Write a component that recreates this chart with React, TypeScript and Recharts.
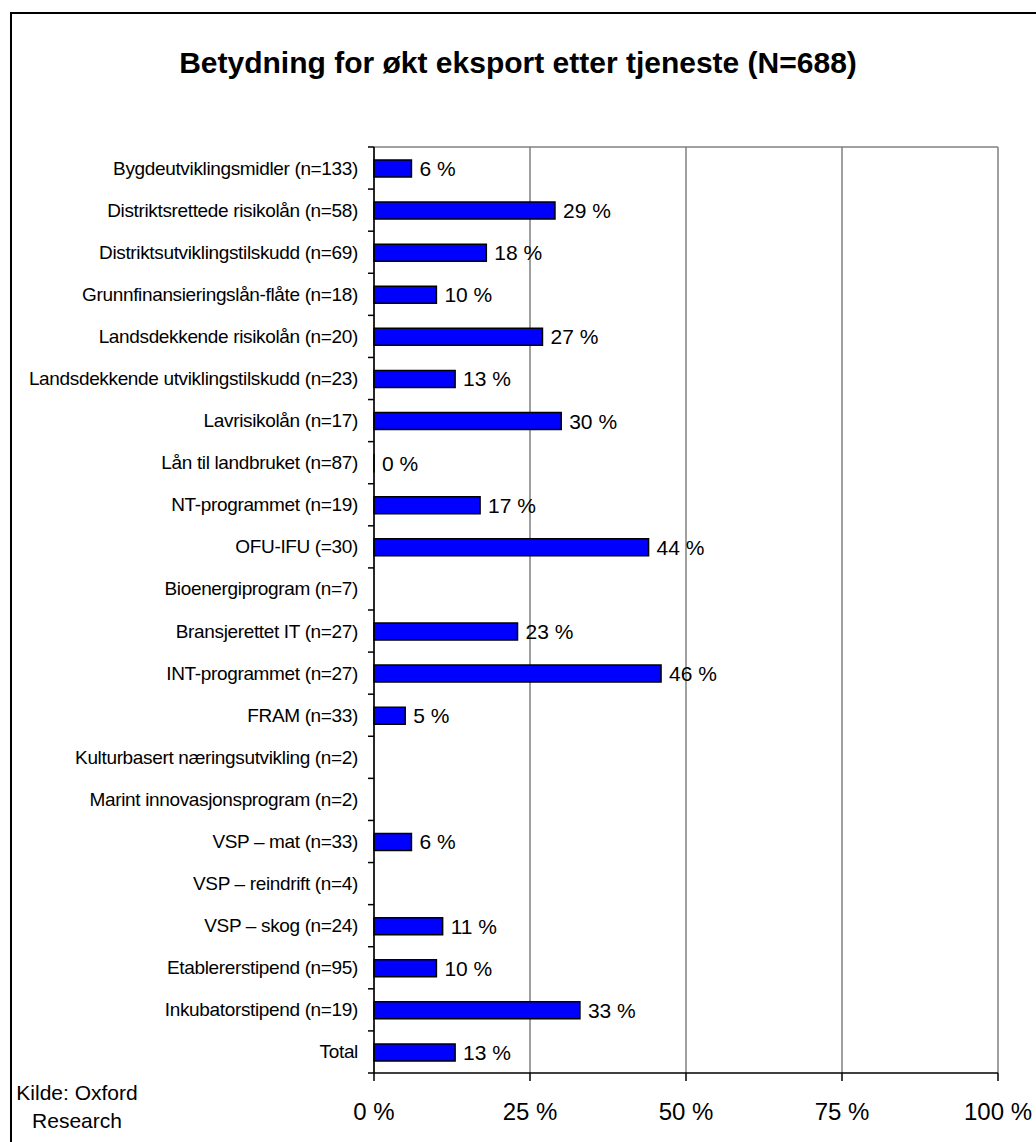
import React from "react";
import {
  Bar,
  BarChart,
  CartesianGrid,
  LabelList,
  XAxis,
  YAxis,
} from "recharts";

const categories = [
  "Bygdeutviklingsmidler (n=133)",
  "Distriktsrettede risikolån (n=58)",
  "Distriktsutviklingstilskudd (n=69)",
  "Grunnfinansieringslån-flåte (n=18)",
  "Landsdekkende risikolån (n=20)",
  "Landsdekkende utviklingstilskudd (n=23)",
  "Lavrisikolån (n=17)",
  "Lån til landbruket (n=87)",
  "NT-programmet (n=19)",
  "OFU-IFU (=30)",
  "Bioenergiprogram (n=7)",
  "Bransjerettet IT (n=27)",
  "INT-programmet (n=27)",
  "FRAM (n=33)",
  "Kulturbasert næringsutvikling (n=2)",
  "Marint innovasjonsprogram (n=2)",
  "VSP – mat (n=33)",
  "VSP – reindrift (n=4)",
  "VSP – skog (n=24)",
  "Etablererstipend (n=95)",
  "Inkubatorstipend (n=19)",
  "Total",
];

// null = no answer shown for that service
const shares: (number | null)[] = [
  6, 29, 18, 10, 27, 13, 30, 0, 17, 44, null, 23, 46, 5, null, null, 6, null,
  11, 10, 33, 13,
];

const xTicks = [0, 25, 50, 75, 100];

const data = categories.map((name, i) => ({ name, value: shares[i] }));

const FONT = "'Liberation Sans', Arial, sans-serif";
const PLOT_TOP = 147;
const PLOT_BOTTOM = 1073;
const BAND = (PLOT_BOTTOM - PLOT_TOP) / categories.length;

function CategoryTick(props: any) {
  const { x, y, payload, index } = props;
  const isLast = index === categories.length - 1;
  return (
    <g>
      <line x1={x + 10} x2={x + 16} y1={y - BAND / 2} y2={y - BAND / 2} stroke="#000" strokeWidth={1.5} />
      {isLast && (
        <line x1={x + 10} x2={x + 16} y1={y + BAND / 2} y2={y + BAND / 2} stroke="#000" strokeWidth={1.5} />
      )}
      <text
        x={x}
        y={y}
        textAnchor="end"
        dominantBaseline="central"
        fontSize={19}
        letterSpacing={-0.35}
        fontFamily={FONT}
        fill="#000"
      >
        {payload.value}
      </text>
    </g>
  );
}

function ValueLabel(props: any) {
  const { x, y, width, height, value } = props;
  if (value === null || value === undefined) return null;
  return (
    <text
      x={x + width + 8}
      y={y + height / 2}
      dominantBaseline="central"
      fontSize={21}
      fontFamily={FONT}
      fill="#000"
    >
      {`${value} %`}
    </text>
  );
}

export default function App() {
  return (
    <div
      style={{
        position: "fixed",
        left: 0,
        top: 0,
        width: 1036,
        height: 1142,
        overflow: "hidden",
        background: "#fff",
        fontFamily: FONT,
      }}
    >
      <div
        style={{
          position: "absolute",
          left: 10,
          top: 12,
          width: 1100,
          height: 1200,
          border: "2px solid #000",
          boxSizing: "border-box",
        }}
      />
      <div
        style={{
          position: "absolute",
          left: 0,
          width: 1036,
          top: 48,
          textAlign: "center",
          fontSize: 30,
          lineHeight: "30px",
          fontWeight: "bold",
          color: "#000",
        }}
      >
        Betydning for økt eksport etter tjeneste (N=688)
      </div>
      <div
        style={{
          position: "absolute",
          left: 12,
          width: 130,
          top: 1079,
          textAlign: "center",
          fontSize: 21,
          lineHeight: "28px",
          color: "#000",
        }}
      >
        Kilde: Oxford
        <br />
        Research
      </div>
      <div style={{ position: "absolute", left: 0, top: 0 }}>
        <BarChart
          width={1036}
          height={1142}
          data={data}
          layout="vertical"
          margin={{ top: PLOT_TOP, right: 38, bottom: 9, left: 10 }}
          barSize={17}
        >
          <CartesianGrid
            stroke="#808080"
            strokeWidth={1.5}
            horizontalCoordinatesGenerator={({ offset }: any) => [offset.top]}
          />
          <XAxis
            type="number"
            domain={[0, 100]}
            ticks={xTicks}
            tickFormatter={(v) => `${v} %`}
            height={60}
            tickSize={8}
            tickMargin={22}
            axisLine={{ stroke: "#000", strokeWidth: 1.5 }}
            tickLine={{ stroke: "#000", strokeWidth: 1.5 }}
            tick={{ fill: "#000", fontSize: 24, fontFamily: FONT }}
          />
          <YAxis
            type="category"
            dataKey="name"
            width={364}
            interval={0}
            tickLine={false}
            tickSize={6}
            tickMargin={10}
            axisLine={{ stroke: "#000", strokeWidth: 1.5 }}
            tick={<CategoryTick />}
          />
          <Bar
            dataKey="value"
            fill="#0000FF"
            stroke="#000"
            strokeWidth={1.5}
            minPointSize={(v: any) => (v === 0 ? 0.01 : 0)}
            isAnimationActive={false}
          >
            <LabelList dataKey="value" content={<ValueLabel />} />
          </Bar>
        </BarChart>
      </div>
    </div>
  );
}
